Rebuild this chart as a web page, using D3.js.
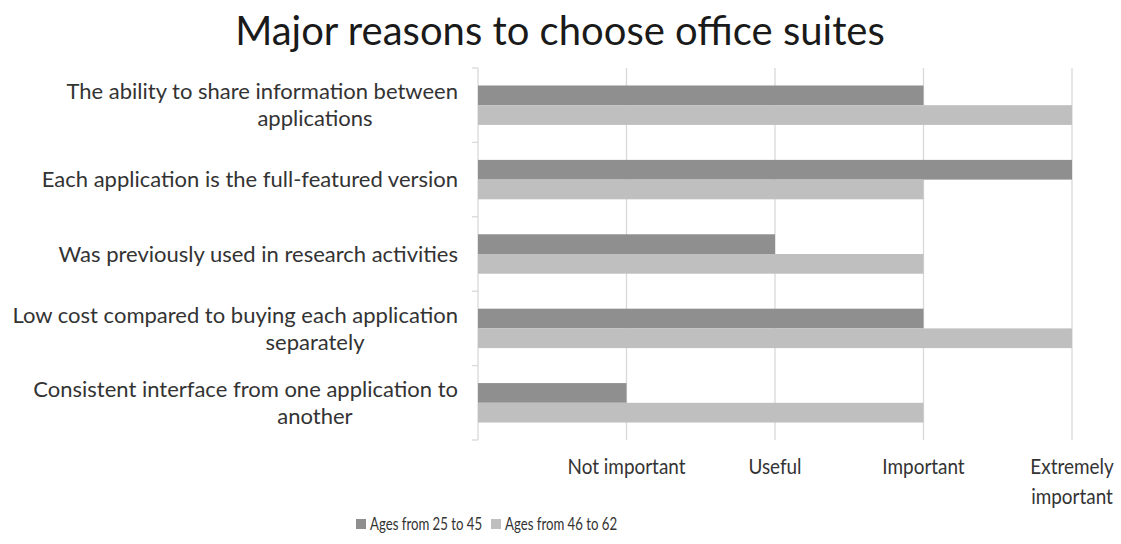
<!DOCTYPE html>
<html>
<head>
<meta charset="utf-8">
<script src="https://cdn.jsdelivr.net/npm/d3@7"></script>
<style>
  html, body { margin: 0; padding: 0; background: #fff; }
  text { font-family: Lato, "Open Sans", sans-serif; }
</style>
</head>
<body>
<svg id="chart" width="1121" height="544"></svg>
<script>
// Survey reasons (top to bottom) with wrapped label lines
const categories = [
  ["The ability to share information between", "applications"],
  ["Each application is the full-featured version"],
  ["Was previously used in research activities"],
  ["Low cost compared to buying each application", "separately"],
  ["Consistent interface from one application to", "another"]
];
const seriesNames = ["Ages from 25 to 45", "Ages from 46 to 62"];
const ages25to45 = [3, 4, 2, 3, 1];
const ages46to62 = [4, 3, 3, 4, 3];
const tickLabels = [[""], ["Not important"], ["Useful"], ["Important"], ["Extremely", "important"]];
const colors = ["#8f8f8f", "#bfbfbf"];

const svg = d3.select("#chart");
const plotLeft = 478, plotRight = 1072, plotTop = 68, plotBottom = 440;
const labelSize = 22;

const x = d3.scaleLinear().domain([0, 4]).range([plotLeft, plotRight]);
const y = d3.scaleBand().domain(d3.range(categories.length)).range([plotTop, plotBottom]).paddingInner(0.47).paddingOuter(0.235);
const yInner = d3.scaleBand().domain([0, 1]).range([0, y.bandwidth()]);
const step = (plotBottom - plotTop) / categories.length;

// Title
svg.append("text").attr("x", 560).attr("y", 45).attr("text-anchor", "middle")
  .attr("font-size", 40).attr("fill", "#1a1a1a").text("Major reasons to choose office suites");

// Vertical gridlines
svg.append("g").selectAll("line").data(d3.range(1, 5)).join("line")
  .attr("x1", d => x(d)).attr("x2", d => x(d)).attr("y1", plotTop).attr("y2", plotBottom)
  .attr("stroke", "#d9d9d9").attr("stroke-width", 1.3);

// Category axis line with tick marks between groups
const catAxis = svg.append("g");
catAxis.append("line").attr("x1", plotLeft).attr("x2", plotLeft).attr("y1", plotTop).attr("y2", plotBottom)
  .attr("stroke", "#d9d9d9").attr("stroke-width", 1.3);
catAxis.selectAll("line.tick").data(d3.range(categories.length + 1)).join("line").attr("class", "tick")
  .attr("x1", plotLeft - 6).attr("x2", plotLeft).attr("y1", i => plotTop + i * step).attr("y2", i => plotTop + i * step)
  .attr("stroke", "#d9d9d9").attr("stroke-width", 1.3);

// Bars
const rows = categories.map((c, i) => ({ i, vals: [ages25to45[i], ages46to62[i]] }));
const groups = svg.append("g").selectAll("g").data(rows).join("g")
  .attr("transform", d => `translate(0,${y(d.i)})`);
groups.selectAll("rect").data(d => d.vals.map((v, s) => ({ v, s }))).join("rect")
  .attr("x", x(0)).attr("y", d => yInner(d.s)).attr("height", yInner.bandwidth())
  .attr("width", d => x(d.v) - x(0)).attr("fill", d => colors[d.s]);

// Category labels
const labelG = svg.append("g");
categories.forEach((lines, i) => {
  const cy = y(i) + y.bandwidth() / 2;
  if (lines.length === 1) {
    labelG.append("text").attr("x", 458).attr("y", cy).attr("dy", "0.35em")
      .attr("text-anchor", "end").attr("font-size", labelSize).attr("fill", "#333").text(lines[0]);
  } else {
    labelG.append("text").attr("x", 458).attr("y", cy - 13.5).attr("dy", "0.35em")
      .attr("text-anchor", "end").attr("font-size", labelSize).attr("fill", "#333").text(lines[0]);
    labelG.append("text").attr("x", 315).attr("y", cy + 13.5).attr("dy", "0.35em")
      .attr("text-anchor", "middle").attr("font-size", labelSize).attr("fill", "#333").text(lines[1]);
  }
});

// Value axis labels (slightly condensed lettering)
const xAxisG = svg.append("g");
tickLabels.forEach((lines, v) => {
  lines.forEach((ln, k) => {
    if (!ln) return;
    xAxisG.append("g").attr("transform", `translate(${x(v)},${466 + k * 30}) scale(0.86,1)`)
      .append("text").attr("dy", "0.35em")
      .attr("text-anchor", "middle").attr("font-size", labelSize).attr("fill", "#333").text(ln);
  });
});

// Legend
const legend = svg.append("g");
const legendX = [356, 491];
seriesNames.forEach((name, s) => {
  legend.append("rect").attr("x", legendX[s]).attr("y", 519).attr("width", 10).attr("height", 10).attr("fill", colors[s]);
  legend.append("g").attr("transform", `translate(${legendX[s] + 14},524) scale(0.8,1)`)
    .append("text").attr("dy", "0.35em")
    .attr("font-size", 16.5).attr("fill", "#333").text(name);
});
</script>
</body>
</html>
